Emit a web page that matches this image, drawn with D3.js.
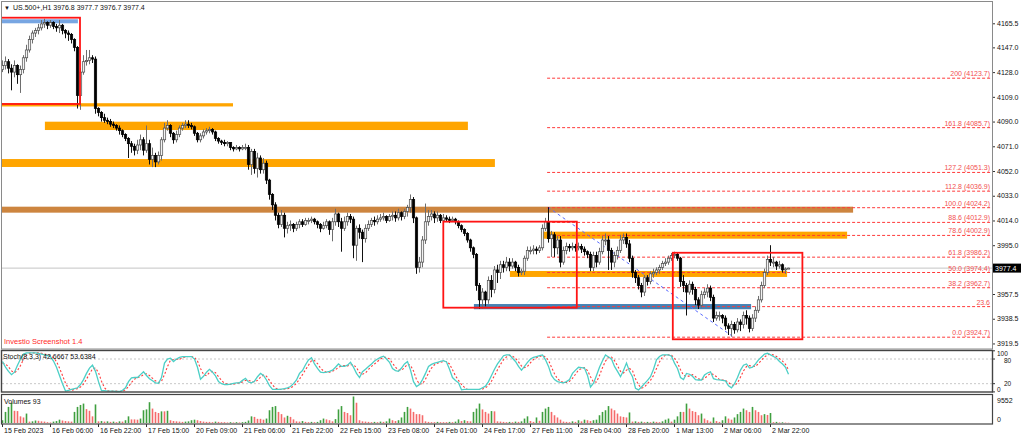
<!DOCTYPE html>
<html>
<head>
<meta charset="utf-8">
<script src="https://cdn.jsdelivr.net/npm/d3@7"></script>
<style>
  body { margin: 0; background: #fff; }
  svg { display: block; }
  text { font-family: "Liberation Sans", Arial, sans-serif; }
</style>
</head>
<body>
<svg id="chart" width="1024" height="440"></svg>
<script>
// ---- data (H1 bars, open = previous close) ----
var symbol = "US.500+,H1";
var firstOpen = 4130;

var closes = [
  4133,4136,4131,4128,4133,4126,4130,4139,4145,4153,
  4158,4160,4162,4165,4166,4164,4166,4163,4162,4164,
  4160,4158,4157,4153,4147,4110,4128,4136,4137,4139,
  4138,4100,4097,4093,4091,4090,4088,4087,4085,4083,
  4080,4077,4073,4071,4068,4072,4076,4068,4073,4061,
  4064,4059,4064,4076,4085,4087,4081,4076,4080,4085,
  4087,4088,4087,4086,4081,4076,4079,4082,4083,4084,
  4082,4077,4075,4074,4073,4074,4070,4069,4070,4069,
  4070,4070,4057,4067,4054,4062,4053,4058,4045,4034,
  4026,4018,4011,4018,4008,4010,4011,4008,4011,4013,
  4011,4014,4014,4015,4013,4011,4008,4010,4013,4007,
  4013,4019,4013,4008,4013,4017,4015,3995,4008,4005,
  4000,4008,4011,4014,4013,4015,4016,4017,4014,4017,
  4018,4016,4020,4017,4021,4024,4030,4016,3978,3982,
  3999,4013,4017,4019,4016,4018,4014,4016,4015,4014,
  4015,4013,4010,4007,4004,3999,3993,3988,3964,3953,
  3959,3953,3968,3961,3976,3974,3980,3978,3982,3979,
  3982,3978,3974,3975,3985,3991,3991,3992,3991,3993,
  4008,4013,4000,4003,3993,3999,3982,3991,3994,3993,
  3994,3993,3994,3992,3990,3988,3978,3987,3982,3990,
  3999,3999,3991,3982,3987,3991,3999,4001,3996,3985,
  3974,3970,3964,3959,3970,3967,3973,3974,3976,3978,
  3981,3982,3985,3987,3988,3985,3967,3964,3959,3965,
  3961,3953,3949,3957,3959,3962,3955,3939,3941,3941,
  3939,3933,3931,3934,3930,3936,3934,3941,3939,3931,
  3939,3945,3953,3964,3974,3984,3982,3982,3979,3980,
  3976,3976.8,3977.4
];

var highs = [
  4137,4140,4138,4134,4137,4134,4133,4141,4149,4156,
  4160,4162,4165,4168,4169,4167,4168,4167,4165,4168,
  4165,4161,4160,4158,4154,4148,4131,4141,4145,4145,
  4141,4140,4101,4098,4096,4093,4092,4090,4088,4087,
  4084,4081,4078,4075,4073,4076,4080,4078,4087,4076,
  4070,4066,4067,4078,4089,4091,4088,4082,4083,4087,
  4089,4091,4091,4089,4087,4082,4081,4084,4085,4086,
  4085,4083,4078,4076,4076,4075,4074,4071,4072,4071,
  4072,4073,4072,4069,4069,4066,4064,4062,4060,4046,
  4035,4028,4020,4022,4020,4013,4014,4012,4013,4015,
  4015,4016,4016,4017,4016,4014,4012,4013,4015,4014,
  4016,4023,4020,4016,4017,4020,4019,4017,4010,4011,
  4007,4011,4014,4016,4017,4018,4019,4020,4018,4019,
  4021,4021,4023,4021,4023,4026,4034,4032,4017,3986,
  4002,4027,4022,4022,4021,4021,4019,4019,4018,4017,
  4017,4016,4014,4011,4008,4005,4000,3994,3989,3966,
  3962,3960,3971,3972,3979,3980,3983,3983,3986,3985,
  3985,3983,3980,3977,3987,3994,3994,3995,3994,3995,
  4011,4016,4024.2,4006,4005,4002,4002,3994,3997,3996,
  3997,3996,3997,3996,3994,3991,3990,3990,3990,3993,
  4002,4004,4002,3993,3990,3994,4003,4004,4004,3999,
  3987,3976,3972,3966,3972,3972,3975,3977,3978,3980,
  3983,3985,3987,3989,3990,3989,3986,3972,3966,3968,
  3967,3963,3955,3960,3962,3965,3964,3957,3944,3944,
  3942,3941,3935,3937,3936,3939,3938,3944,3945,3941,
  3942,3948,3956,3967,3977,3987,3995,3986,3983,3983,
  3981,3978,3977.7
];

var lows = [
  4128,4130,4127,4114,4124,4119,4112,4127,4136,4143,
  4150,4155,4157,4160,4162,4161,4162,4161,4159,4158,
  4157,4154,4152,4150,4144,4100,4099,4126,4133,4134,
  4135,4096,4094,4090,4089,4088,4086,4085,4083,4080,
  4078,4075,4062,4066,4064,4065,4068,4064,4066,4057,
  4055,4055,4057,4060,4074,4083,4078,4073,4074,4078,
  4083,4085,4085,4084,4079,4074,4074,4077,4080,4081,
  4080,4075,4073,4072,4071,4071,4068,4067,4068,4067,
  4068,4068,4053,4049,4050,4047,4050,4050,4042,4030,
  4022,4014,4008,4009,4001,4004,4006,4005,4006,4008,
  4009,4010,4011,4012,4011,4008,4005,4007,4008,4003,
  3998,4010,4009,3990,4006,4010,4012,3985,3983,4000,
  3982,3997,4006,4009,4010,4011,4013,4014,4012,4013,
  4014,4013,4014,4014,4015,4017,4020,4012,3973,3974,
  3978,3996,4010,4014,4012,4013,4012,4012,4013,4012,
  4013,4011,4008,4005,4002,3997,3990,3985,3960,3946,
  3946,3948,3950,3955,3958,3966,3969,3974,3975,3975,
  3977,3975,3971,3972,3972,3983,3988,3988,3988,3989,
  3991,4006,3997,3986,3986,3988,3978,3980,3988,3990,
  3991,3990,3991,3989,3987,3985,3975,3975,3978,3980,
  3988,3995,3976,3976,3978,3984,3989,3996,3993,3982,
  3970,3966,3961,3955,3956,3964,3965,3970,3972,3973,
  3976,3979,3980,3983,3985,3983,3963,3959,3941,3957,
  3957,3949,3946,3947,3954,3955,3952,3936,3937,3937,
  3935,3930,3926,3924.7,3927,3928,3929,3931,3934,3928,
  3929,3936,3943,3951,3962,3972,3979,3978,3976,3977,
  3974,3973,3976.7
];

var volumes = [
  1000,4000,5800,7300,4400,4300,2400,2000,3400,500,
  600,900,800,600,500,300,200,500,700,1200,
  900,700,600,500,4000,5800,6500,7000,5000,4400,
  2400,6700,600,700,500,600,400,500,300,600,
  500,1000,2400,1300,1300,1200,1600,4600,4900,7500,
  5200,4000,3600,4200,4200,4400,1000,700,600,500,
  400,500,600,1000,1200,1000,700,500,400,400,
  300,500,400,300,300,200,300,200,300,200,
  300,400,900,2400,2200,1500,1500,1200,1600,4600,
  5800,6100,4000,3200,2000,2600,2200,1300,600,500,
  700,400,300,400,300,400,1000,1600,1300,1000,
  600,1400,4900,6100,4000,3600,2800,9552,7300,1000,
  600,500,400,300,400,300,500,400,600,1600,
  1000,700,1000,2000,4000,5800,5200,4000,3200,3200,
  2800,600,400,300,300,400,300,300,300,400,
  300,500,1300,700,1000,700,600,4000,5200,7000,
  4900,4000,3400,4300,4200,600,500,400,300,400,
  300,500,400,600,1600,2400,700,400,2000,800,
  4000,5200,5800,4000,2800,2000,1200,500,400,300,
  600,400,1000,600,1200,1000,700,1000,1200,2800,
  4000,4600,6100,5200,4600,3400,2400,2200,2000,3800,
  500,600,400,500,300,400,300,500,400,300,
  600,1200,1600,500,1200,2400,4000,4000,7000,5200,
  4300,4000,2800,3400,1600,1000,500,2000,700,400,
  1000,2400,1600,1200,2000,3200,4000,5200,4600,4000,
  5800,4600,4000,2800,3200,2900,3600,300,400,200,
  250,150,93
];

var stochMain = [
  74,60,50,42,48,65,80,92,95,95,
  95,95,94,92,90,88,86,75,60,40,
  20,2,4,6,8,10,18,30,45,58,
  65,50,25,3,3,2,2,2,1,1,
  4,10,25,34,35,35,42,49,40,32,
  27,22,21,35,70,80,82,74,80,84,
  86,86,86,86,80,60,31,38,48,55,
  48,39,25,20,18,18,19,21,22,22,
  28,33,24,22,26,37,45,40,29,15,
  6,6,6,7,8,10,13,20,29,45,
  52,66,78,83,68,57,48,47,48,50,
  53,60,68,62,62,65,72,60,45,35,
  49,55,62,68,75,80,84,87,80,72,
  57,52,50,58,68,74,53,25,13,18,
  30,45,62,67,70,72,74,76,73,55,
  35,28,22,5,6,6,6,6,6,6,
  10,14,25,40,55,68,78,88,90,90,
  82,74,62,53,62,72,80,84,86,88,
  90,78,62,40,30,25,23,22,25,30,
  45,53,60,59,58,40,12,21,40,60,
  76,90,85,80,62,50,37,52,70,50,
  37,9,5,12,20,28,37,55,78,86,
  90,90,90,87,70,57,35,30,45,43,
  38,30,29,29,41,46,49,32,30,29,
  28,27,15,10,20,35,53,65,68,58,
  60,68,78,85,92,94,90,86,82,74,
  68,60,42.6667
];

var stochSignal = [
  70,68,61,51,47,52,64,79,89,94,
  95,95,95,94,92,90,88,83,74,58,
  40,21,9,4,6,8,12,19,31,44,
  56,58,47,26,10,3,2,2,2,1,
  2,5,13,23,31,35,37,42,44,40,
  33,27,23,26,42,62,77,79,79,79,
  83,85,86,86,84,75,57,43,39,47,
  50,47,37,28,21,19,18,19,21,22,
  24,28,28,26,24,28,36,41,38,28,
  17,9,6,6,7,8,10,14,21,31,
  42,54,65,76,76,69,58,51,48,48,
  50,54,60,63,64,63,66,66,59,47,
  43,46,55,62,68,74,80,84,84,80,
  70,60,53,53,59,67,65,51,30,19,
  20,31,46,58,66,70,72,74,74,68,
  54,39,28,18,11,6,6,6,6,6,
  7,10,16,26,40,54,67,78,85,89,
  87,82,73,63,59,62,71,79,83,86,
  88,85,77,60,44,32,26,23,23,26,
  33,43,53,57,59,52,37,24,24,40,
  59,75,84,85,76,64,50,46,53,57,
  52,32,17,9,12,20,28,40,57,73,
  85,89,90,89,82,71,54,41,37,39,
  42,37,32,29,33,39,45,42,37,30,
  29,28,23,17,15,22,36,51,62,64,
  62,62,69,77,85,90,92,90,86,81,
  75,67,53.6384
];

var timeLabels = ["15 Feb 2023","16 Feb 06:00","16 Feb 22:00","17 Feb 15:00","20 Feb 09:00",
  "21 Feb 06:00","21 Feb 22:00","22 Feb 15:00","23 Feb 08:00","24 Feb 01:00","24 Feb 17:00",
  "27 Feb 11:00","28 Feb 04:00","28 Feb 20:00","1 Mar 13:00","2 Mar 06:00","2 Mar 22:00"];
var barsPerLabel = 16;

var priceTicks = [4165.5,4147.0,4128.0,4109.0,4090.0,4071.0,4052.0,4033.0,4014.0,3995.0,3957.5,3938.5,3919.5];

// fibonacci drawn from the 4024.2 high (bar 182) to the 3924.7 low (bar 243)
var fibAnchor = [{bar: 182, price: 4024.2}, {bar: 243.7, price: 3924.7}];
var fibLabels = ["200 (4123.7)","161.8 (4085.7)","127.2 (4051.3)","112.8 (4036.9)","100.0 (4024.2)",
  "88.6 (4012.9)","78.6 (4002.9)","61.8 (3986.2)","50.0 (3974.4)","38.2 (3962.7)","23.6","0.0 (3924.7)"];
var fibPrices = [4123.7,4085.7,4051.3,4036.9,4024.2,4012.9,4002.9,3986.2,3974.4,3962.7,3948.2,3924.7];

// drawn zones: bar range and price range
var zones = [
  {from: 0, to: 25.3, lo: 4165.5, hi: 4168.6, kind: "sky"},
  {from: 0, to: 77, lo: 4101.6, hi: 4104.1, kind: "orange"},
  {from: 14.3, to: 155.3, lo: 4083.5, hi: 4089.9, kind: "orange"},
  {from: 0, to: 164.3, lo: 4055.1, hi: 4061.2, kind: "orange"},
  {from: 0, to: 283.7, lo: 4020.0, hi: 4024.6, kind: "brown"},
  {from: 179.7, to: 281.7, lo: 4000.0, hi: 4005.4, kind: "orange"},
  {from: 169.3, to: 261.7, lo: 3970.6, hi: 3975.2, kind: "orange"},
  {from: 157.3, to: 249.7, lo: 3945.8, hi: 3949.8, kind: "steel"}
];
var boxes = [
  {from: -2, to: 26, lo: 4103.5, hi: 4169.8},
  {from: 147.1, to: 191.6, lo: 3947.0, hi: 4013.1},
  {from: 223.6, to: 266.8, lo: 3922.7, hi: 3989.2}
];

// ---- drawing ----
var zoneColor = {sky: "#78a6e2", orange: "#ffa500", brown: "#cd853f", steel: "#4682b4"};
var fontFam = '"Liberation Sans", Arial, sans-serif';

var svg = d3.select("#chart");
svg.append("rect").attr("width", 1024).attr("height", 440).attr("fill", "#fff");

var x = d3.scaleLinear().domain([0, 330]).range([2, 992]);
var y = d3.scaleLinear().domain([3915.25, 4181.86]).range([349, 2]);
var ys = d3.scaleLinear().domain([0, 100]).range([391.9, 350.8]);
var yv = d3.scaleLinear().domain([0, 9552]).range([423, 396.5]);

var candles = closes.map(function(c, i) {
  return {i: i, o: i ? closes[i - 1] : firstOpen, h: highs[i], l: lows[i], c: c};
});
var last = candles[candles.length - 1];

svg.append("defs").append("clipPath").attr("id", "mainClip")
  .append("rect").attr("x", 2).attr("y", 2).attr("width", 990).attr("height", 347);

var main = svg.append("g").attr("clip-path", "url(#mainClip)");

// bid line
main.append("line")
  .attr("x1", 2).attr("x2", 992)
  .attr("y1", y(last.c)).attr("y2", y(last.c))
  .attr("stroke", "#c4c4c4").attr("stroke-width", 1);

// zones
main.selectAll("rect.zone").data(zones).enter().append("rect")
  .attr("class", "zone")
  .attr("x", function(d) { return x(d.from); })
  .attr("width", function(d) { return x(d.to) - x(d.from); })
  .attr("y", function(d) { return y(d.hi); })
  .attr("height", function(d) { return y(d.lo) - y(d.hi); })
  .attr("fill", function(d) { return zoneColor[d.kind]; });

// fibonacci levels
var fibG = main.append("g");
fibPrices.forEach(function(p, k) {
  fibG.append("line")
    .attr("x1", x(fibAnchor[0].bar - 0.3)).attr("x2", 992)
    .attr("y1", y(p) + 0.5).attr("y2", y(p) + 0.5)
    .attr("stroke", "#ff3a3a").attr("stroke-width", 1)
    .attr("stroke-dasharray", "3,2");
  fibG.append("text")
    .attr("x", 990).attr("y", y(p) - 1.5)
    .attr("text-anchor", "end")
    .attr("font-size", 7).attr("fill", "#f25050")
    .text(fibLabels[k]);
});
main.append("line")
  .attr("x1", x(fibAnchor[0].bar)).attr("y1", y(fibAnchor[0].price))
  .attr("x2", x(fibAnchor[1].bar)).attr("y2", y(fibAnchor[1].price))
  .attr("stroke", "#5a6cff").attr("stroke-width", 1)
  .attr("stroke-dasharray", "3,3");

// candles
var cg = main.append("g");
cg.selectAll("line.wick").data(candles).enter().append("line")
  .attr("class", "wick")
  .attr("x1", function(d) { return x(d.i) + 0.5; })
  .attr("x2", function(d) { return x(d.i) + 0.5; })
  .attr("y1", function(d) { return y(Math.max(d.h, d.o, d.c)); })
  .attr("y2", function(d) { return y(Math.min(d.l, d.o, d.c)); })
  .attr("stroke", function(d) { return d.c >= d.o ? "#6e6e6e" : "#111"; })
  .attr("stroke-width", 1);
cg.selectAll("rect.body").data(candles).enter().append("rect")
  .attr("class", "body")
  .attr("x", function(d) { return x(d.i) - 0.7; })
  .attr("width", 2.4)
  .attr("y", function(d) { return y(Math.max(d.o, d.c)); })
  .attr("height", function(d) { return Math.max(1, Math.abs(y(d.o) - y(d.c))); })
  .attr("fill", function(d) { return d.c >= d.o ? "#f2f2f2" : "#000"; })
  .attr("stroke", function(d) { return d.c >= d.o ? "#4a4a4a" : "#000"; })
  .attr("stroke-width", 0.7);

// red boxes
main.selectAll("rect.box").data(boxes).enter().append("rect")
  .attr("class", "box")
  .attr("x", function(d) { return x(d.from); })
  .attr("width", function(d) { return x(d.to) - x(d.from); })
  .attr("y", function(d) { return y(d.hi); })
  .attr("height", function(d) { return y(d.lo) - y(d.hi); })
  .attr("fill", "none").attr("stroke", "#ff1414").attr("stroke-width", 1.8);

// price axis
var pAxis = svg.append("g").attr("transform", "translate(992,0)")
  .call(d3.axisRight(y).tickValues(priceTicks).tickSize(3).tickPadding(2)
    .tickFormat(d3.format(".1f")));
pAxis.select(".domain").remove();
pAxis.selectAll("text").attr("font-size", 7).attr("font-family", fontFam).attr("fill", "#111");
pAxis.selectAll("line").attr("stroke", "#333");

// current price box
svg.append("rect").attr("x", 993).attr("y", y(last.c) - 4.5)
  .attr("width", 28).attr("height", 9).attr("fill", "#000");
svg.append("text").attr("x", 995).attr("y", y(last.c) + 2.8)
  .attr("font-size", 7).attr("fill", "#fff").text(last.c.toFixed(1));

// stochastic panel
var sg = svg.append("g");
[80, 20].forEach(function(v) {
  sg.append("line").attr("x1", 2).attr("x2", 992).attr("y1", ys(v)).attr("y2", ys(v))
    .attr("stroke", "#c8c8c8").attr("stroke-dasharray", "2,2");
});
var sLine = function(arr) {
  return d3.line().x(function(d, i) { return x(i) + 0.5; }).y(function(d) { return ys(d); })(arr);
};
sg.append("path").attr("d", sLine(stochSignal))
  .attr("fill", "none").attr("stroke", "#ff3b3b").attr("stroke-width", 1.1)
  .attr("stroke-dasharray", "2,2");
sg.append("path").attr("d", sLine(stochMain))
  .attr("fill", "none").attr("stroke", "#4ccfc6").attr("stroke-width", 1.3);

sg.append("text").attr("x", 3).attr("y", 359).attr("font-size", 7).attr("fill", "#111")
  .text("Stoch(8,3,3) " + stochMain[stochMain.length - 1].toFixed(4) + " " +
        stochSignal[stochSignal.length - 1].toFixed(4));
// scale labels: 100 / 80 and 20 / 0 sit close together as in the terminal
[[100, 5.5, 997], [80, 3.5, 1004], [20, 2.5, 1004], [0, 0, 997]].forEach(function(t) {
  svg.append("line").attr("x1", 992).attr("x2", 995).attr("y1", ys(t[0])).attr("y2", ys(t[0]))
    .attr("stroke", "#333");
  svg.append("text").attr("x", t[2]).attr("y", ys(t[0]) + t[1]).attr("font-size", 6.5)
    .attr("fill", "#111").text(t[0]);
});

// volume panel
var vg = svg.append("g");
vg.selectAll("line.vol").data(volumes).enter().append("line")
  .attr("class", "vol")
  .attr("x1", function(d, i) { return x(i) + 0.5; })
  .attr("x2", function(d, i) { return x(i) + 0.5; })
  .attr("y1", yv(0))
  .attr("y2", function(d) { return yv(d); })
  .attr("stroke", function(d, i) { return (i === 0 || d > volumes[i - 1]) ? "#3f9f3f" : "#f56a6a"; })
  .attr("stroke-width", 1.6);
vg.append("text").attr("x", 4).attr("y", 404).attr("font-size", 7).attr("fill", "#111")
  .text("Volumes " + volumes[volumes.length - 1]);
svg.append("text").attr("x", 997).attr("y", yv(9552) + 6).attr("font-size", 7).attr("fill", "#111").text("9552");
svg.append("text").attr("x", 997).attr("y", yv(0) - 1).attr("font-size", 7).attr("fill", "#111").text("0");

// time axis
var tAxis = svg.append("g").attr("transform", "translate(0,424)")
  .call(d3.axisBottom(x).tickValues(timeLabels.map(function(d, k) { return k * barsPerLabel; }))
    .tickSize(3).tickPadding(1)
    .tickFormat(function(d, k) { return timeLabels[k]; }));
tAxis.select(".domain").remove();
tAxis.selectAll("text").attr("font-size", 7).attr("font-family", fontFam).attr("fill", "#111")
  .attr("text-anchor", "start").attr("dx", 1.5);
tAxis.selectAll("line").attr("stroke", "#333");

// panel frames
svg.append("rect").attr("x", 1.5).attr("y", 1.5).attr("width", 991).attr("height", 347.5)
  .attr("fill", "none").attr("stroke", "#8a8a8a");
svg.append("rect").attr("x", 1.5).attr("y", 350.5).attr("width", 991).attr("height", 41.5)
  .attr("fill", "none").attr("stroke", "#444").attr("stroke-width", 1.4);
svg.append("rect").attr("x", 1.5).attr("y", 394.5).attr("width", 991).attr("height", 29.5)
  .attr("fill", "none").attr("stroke", "#444").attr("stroke-width", 1.2);

// header and watermark
svg.append("text").attr("x", 4).attr("y", 9.5).attr("font-size", 6).attr("fill", "#111").text("\u25BC");
svg.append("text").attr("x", 13).attr("y", 10).attr("font-size", 7).attr("fill", "#111")
  .text(symbol + "  " + [last.o, last.h, last.l, last.c].map(function(v) { return v.toFixed(1); }).join(" "));
svg.append("text").attr("x", 4).attr("y", 344).attr("font-size", 7.5).attr("fill", "#ff2a2a")
  .text("Investio Screenshot 1.4");
</script>
</body>
</html>
